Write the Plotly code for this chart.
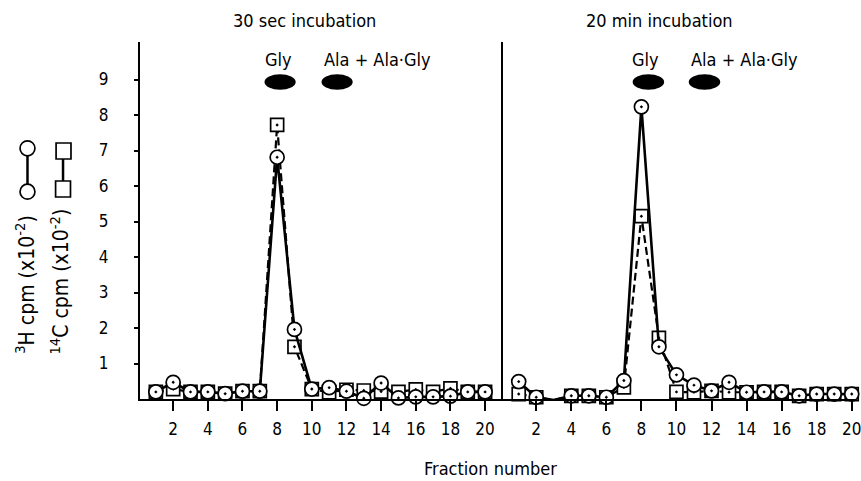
import plotly.graph_objects as go

fractions = list(range(1, 21))

# 30 sec incubation
h3_30s = [0.20, 0.47, 0.20, 0.20, 0.15, 0.22, 0.22, 6.81, 1.96, 0.28, 0.32, 0.22, 0.02, 0.45, 0.03, 0.06, 0.06, 0.08, 0.20, 0.20]
c14_30s = [0.20, 0.28, 0.20, 0.20, 0.15, 0.22, 0.22, 7.72, 1.47, 0.28, 0.19, 0.26, 0.24, 0.21, 0.20, 0.27, 0.20, 0.30, 0.20, 0.20]

# 20 min incubation
h3_20m = [0.49, 0.05, -0.03, 0.09, 0.09, 0.05, 0.52, 8.23, 1.47, 0.68, 0.39, 0.23, 0.47, 0.19, 0.20, 0.20, 0.09, 0.14, 0.14, 0.14]
c14_20m = [0.14, 0.05, -0.03, 0.09, 0.09, 0.05, 0.33, 5.15, 1.72, 0.20, 0.19, 0.23, 0.19, 0.19, 0.20, 0.20, 0.09, 0.14, 0.14, 0.14]

x_ticks = list(range(2, 21, 2))
y_ticks = list(range(1, 10))

panel_titles = ["30 sec incubation", "20 min incubation"]
spot_labels = ["Gly", "Ala + Ala·Gly"]
# spot centres (fraction units) per panel
spots_left = [8.17, 11.46]
spots_right = [8.40, 11.60]
spot_y = 8.93
label_left_x = [8.08, 13.78]
label_right_x = [8.26, 13.88]
label_y = 9.55

FONT = "DejaVu Sans Condensed, Liberation Sans Narrow, Arial Narrow, sans-serif"
W, H = 861, 481
L, R, T, B = 140, 0, 42, 82
PW = W - L - R
PH = H - T - B

def px(x):
    return (x - L) / PW

def py(y):
    return (H - B - y) / PH

split = px(506)

fig = go.Figure()

def add_panel(xa, ya, h3, c14):
    fig.add_trace(go.Scatter(
        x=fractions, y=c14, xaxis=xa, yaxis=ya, mode="lines+markers",
        line=dict(color="black", width=2.2, dash="8px,4px"),
        marker=dict(symbol="square-dot", size=13, color="white",
                    line=dict(color="black", width=1.7)),
        cliponaxis=False, showlegend=False))
    fig.add_trace(go.Scatter(
        x=fractions, y=h3, xaxis=xa, yaxis=ya, mode="lines+markers",
        line=dict(color="black", width=2.6),
        marker=dict(symbol="circle-dot", size=14, color="white",
                    line=dict(color="black", width=1.7)),
        cliponaxis=False, showlegend=False))

add_panel("x", "y", h3_30s, c14_30s)
add_panel("x2", "y2", h3_20m, c14_20m)

shapes = []
for xr, yr_, centers in [("x", "y", spots_left), ("x2", "y2", spots_right)]:
    for c in centers:
        shapes.append(dict(type="circle", xref=xr, yref=yr_,
                           x0=c - 0.9, x1=c + 0.9, y0=spot_y - 0.22, y1=spot_y + 0.22,
                           fillcolor="black", line=dict(color="black", width=0)))

# key glyphs beside the y-axis title
shapes.append(dict(type="line", xref="paper", yref="paper",
                   x0=px(26.7), x1=px(26.7), y0=py(152), y1=py(188),
                   line=dict(color="black", width=2.5)))
for cy in [148.3, 191.7]:
    shapes.append(dict(type="circle", xref="paper", yref="paper",
                       x0=px(26.7 - 7.5), x1=px(26.7 + 7.5), y0=py(cy + 7.5), y1=py(cy - 7.5),
                       fillcolor="white", line=dict(color="black", width=1.7)))
shapes.append(dict(type="line", xref="paper", yref="paper",
                   x0=px(62.5), x1=px(62.5), y0=py(158), y1=py(182),
                   line=dict(color="black", width=2.5)))
for cx, cy in [(63, 151), (62.5, 189)]:
    shapes.append(dict(type="rect", xref="paper", yref="paper",
                       x0=px(cx - 7.5), x1=px(cx + 7.5), y0=py(cy + 8), y1=py(cy - 8),
                       fillcolor="white", line=dict(color="black", width=1.7)))

def ann(text, x, y, xref="paper", yref="paper", size=18, angle=0):
    return dict(text=text, x=x, y=y, xref=xref, yref=yref, xanchor="center", yanchor="middle",
                textangle=angle, showarrow=False, font=dict(size=size, color="black", family=FONT))

annotations = []
for xr, xs in [("x", label_left_x), ("x2", label_right_x)]:
    for lbl, lx in zip(spot_labels, xs):
        annotations.append(ann(lbl, lx, label_y, xref=xr, yref="y", size=18))
annotations.append(ann(panel_titles[0], px(306), py(21), size=18))
annotations.append(ann(panel_titles[1], px(663), py(21), size=18))
annotations.append(ann("Fraction number", px(492.5), py(468), size=18))
annotations.append(ann("<sup>3</sup>H cpm (x10<sup>-2</sup>)", px(24), py(284), size=21, angle=-90))
annotations.append(ann("<sup>14</sup>C cpm (x10<sup>-2</sup>)", px(59), py(282), size=21, angle=-90))

xcommon = dict(tickvals=x_ticks, ticks="outside", ticklen=10, tickwidth=1.5, tickcolor="black",
               showline=True, linecolor="black", linewidth=2, showgrid=False, zeroline=False,
               tickfont=dict(size=17, color="black", family=FONT), ticklabelstandoff=4,
               ticklabeloverflow="allow")
yr = [0, PH / 35.5]

fig.update_layout(
    width=W, height=H, margin=dict(l=L, r=R, t=T, b=B),
    paper_bgcolor="white", plot_bgcolor="white",
    xaxis=dict(domain=[0, split], range=[(140 - 138.5) / 17.45, (506 - 138.5) / 17.45], anchor="y", **xcommon),
    xaxis2=dict(domain=[split, 1], range=[(506 - 503.7) / 17.65, (861 - 503.7) / 17.65], anchor="y2", **xcommon),
    yaxis=dict(range=yr, tickvals=y_ticks, ticks="outside", ticklen=4, tickwidth=1.5, tickcolor="black",
               showline=True, linecolor="black", linewidth=2, showgrid=False, zeroline=False,
               tickfont=dict(size=17, color="black", family=FONT), ticklabelstandoff=22, anchor="x"),
    yaxis2=dict(range=yr, showticklabels=False, ticks="", showline=True, linecolor="black",
                linewidth=2, showgrid=False, zeroline=False, anchor="x2"),
    shapes=shapes, annotations=annotations,
)

fig.write_html("out.html", config={"displayModeBar": False},
               post_script="document.body.style.margin='0';document.body.style.overflow='hidden';")
